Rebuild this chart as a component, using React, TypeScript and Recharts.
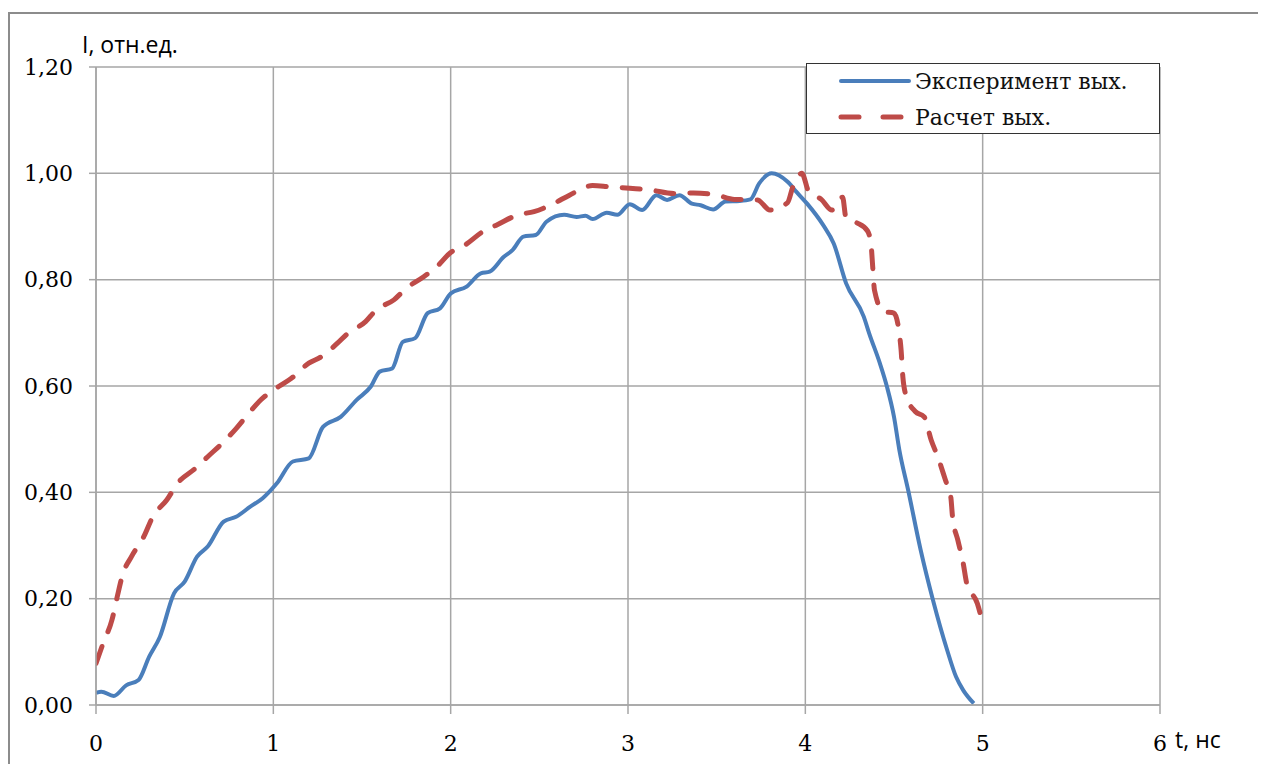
import { LineChart, Line, XAxis, YAxis, CartesianGrid, Legend } from 'recharts';

// Эксперимент вых.
const tExp = [
  0, 0.03, 0.1, 0.17, 0.24, 0.3, 0.36, 0.44, 0.5, 0.57,
  0.63, 0.72, 0.79, 0.87, 0.94, 1.02, 1.11, 1.2, 1.28, 1.38,
  1.47, 1.55, 1.6, 1.67, 1.73, 1.8, 1.87, 1.94, 2.0, 2.09,
  2.17, 2.22, 2.3, 2.35, 2.41, 2.48, 2.54, 2.64, 2.71, 2.76,
  2.8, 2.88, 2.94, 3.01, 3.08, 3.16, 3.22, 3.29, 3.36, 3.41,
  3.48, 3.55, 3.63, 3.69, 3.74, 3.81, 3.9, 3.95, 4.01, 4.1,
  4.16, 4.23, 4.33, 4.36, 4.42, 4.46, 4.5, 4.53, 4.58, 4.65,
  4.72, 4.8, 4.85, 4.89, 4.95,
];
const iExp = [
  0.023, 0.025, 0.017, 0.037, 0.047, 0.091, 0.128, 0.21, 0.232, 0.279,
  0.298, 0.345, 0.354, 0.373, 0.389, 0.417, 0.458, 0.464, 0.523, 0.542,
  0.574, 0.599, 0.627, 0.633, 0.683, 0.69, 0.737, 0.746, 0.774, 0.787,
  0.812, 0.815, 0.843, 0.856, 0.881, 0.884, 0.909, 0.922, 0.918, 0.92,
  0.914, 0.926, 0.922, 0.942, 0.931, 0.959, 0.95, 0.959, 0.943, 0.94,
  0.932, 0.947, 0.948, 0.951, 0.981, 1.0, 0.984, 0.965, 0.943, 0.903,
  0.868, 0.793, 0.73, 0.699, 0.643, 0.599, 0.542, 0.48, 0.404, 0.292,
  0.197, 0.103, 0.053, 0.028, 0.003,
];

// Расчет вых.
const tCalc = [
  0, 0.04, 0.09, 0.12, 0.15, 0.2, 0.27, 0.32, 0.4, 0.46,
  0.56, 0.63, 0.72, 0.79, 0.87, 0.93, 1.03, 1.1, 1.2, 1.27,
  1.36, 1.42, 1.52, 1.58, 1.68, 1.75, 1.85, 1.92, 2.0, 2.08,
  2.18, 2.26, 2.38, 2.47, 2.58, 2.67, 2.8, 2.89, 3.01, 3.12,
  3.26, 3.37, 3.5, 3.6, 3.73, 3.8, 3.9, 3.93, 3.98, 4.02,
  4.09, 4.15, 4.21, 4.23, 4.29, 4.35, 4.37, 4.38, 4.39, 4.44,
  4.5, 4.53, 4.54, 4.55, 4.57, 4.62, 4.67, 4.71, 4.75, 4.79,
  4.82, 4.83, 4.86, 4.89, 4.91, 4.97, 5.0,
];
const iCalc = [
  0.078, 0.116, 0.16, 0.204, 0.245, 0.279, 0.317, 0.354, 0.386, 0.417,
  0.445, 0.467, 0.495, 0.52, 0.552, 0.574, 0.599, 0.614, 0.643, 0.655,
  0.68, 0.699, 0.721, 0.743, 0.762, 0.784, 0.806, 0.824, 0.851, 0.865,
  0.89, 0.903, 0.922, 0.928, 0.943, 0.959, 0.977, 0.975, 0.972, 0.969,
  0.962, 0.963, 0.959, 0.951, 0.95, 0.931, 0.945, 0.975, 1.0, 0.965,
  0.951, 0.931, 0.955, 0.915, 0.907, 0.892, 0.868, 0.824, 0.78, 0.74,
  0.737, 0.699, 0.668, 0.617, 0.58, 0.552, 0.542, 0.498, 0.464, 0.423,
  0.392, 0.354, 0.31, 0.267, 0.229, 0.191, 0.154,
];

const xTicks = [0, 1, 2, 3, 4, 5, 6];
const yTicks = [0, 0.2, 0.4, 0.6, 0.8, 1.0, 1.2];

const expData = tExp.map((t, i) => ({ t, v: iExp[i] }));
const calcData = tCalc.map((t, i) => ({ t, v: iCalc[i] }));

const BLUE = '#4a7ebb';
const RED = '#be4b48';
const GRID = '#a6a6a6';
const SERIF = 'DejaVu Serif';
const tickFont = { fontFamily: SERIF, fontSize: 22, fill: '#000' };
const labelFont = { fontFamily: 'Open Sans', fontSize: 23, fill: '#000' };

const LegendBox = () => (
  <div style={{ width: 354, height: 71, border: '1.5px solid #333', background: '#fff', boxSizing: 'border-box' }}>
    <svg width={352} height={69} style={{ display: 'block' }}>
      <line x1={34} y1={17} x2={102} y2={17} stroke={BLUE} strokeWidth={4} strokeLinecap="round" />
      <text x={108} y={25} fontFamily={SERIF} fontSize={22} fill="#111">
        Эксперимент вых.
      </text>
      <line x1={34} y1={53} x2={102} y2={53} stroke={RED} strokeWidth={5} strokeLinecap="round" strokeDasharray="18 24" />
      <text x={108} y={61} fontFamily={SERIF} fontSize={22} fill="#111">
        Расчет вых.
      </text>
    </svg>
  </div>
);

const App = () => {
  return (
    <div style={{ position: 'relative', width: 1250, height: 756 }}>
      <div
        style={{
          position: 'absolute',
          left: 0,
          top: 4,
          right: 0,
          bottom: 0,
          borderTop: '2px solid #8c8c8c',
          borderLeft: '2px solid #8c8c8c',
        }}
      />
      <LineChart
        width={1250}
        height={756}
        margin={{ top: 59, right: 98, left: 28, bottom: 19 }}
        style={{ position: 'absolute', left: 0, top: 0 }}
      >
        <CartesianGrid stroke={GRID} strokeWidth={1.5} />
        <XAxis
          type="number"
          dataKey="t"
          domain={[0, 6]}
          ticks={xTicks}
          allowDataOverflow
          height={40}
          stroke={GRID}
          strokeWidth={1.5}
          tickSize={9}
          tickMargin={21}
          tick={tickFont}
          label={{
            content: (props: any) => {
              const vb = props.viewBox;
              return (
                <text x={vb.x + vb.width + 15} y={vb.y + 43} {...labelFont}>
                  t, нс
                </text>
              );
            },
          }}
        />
        <YAxis
          type="number"
          domain={[0, 1.2]}
          ticks={yTicks}
          width={60}
          stroke={GRID}
          strokeWidth={1.5}
          tickSize={7}
          tickMargin={16}
          tick={tickFont}
          tickFormatter={(v: number) => v.toFixed(2).replace('.', ',')}
          label={{
            content: (props: any) => {
              const vb = props.viewBox;
              return (
                <text x={vb.x + vb.width - 14} y={vb.y - 14} {...labelFont}>
                  I, отн.ед.
                </text>
              );
            },
          }}
        />
        <Legend
          layout="horizontal"
          verticalAlign="middle"
          align="center"
          content={() => <LegendBox />}
          wrapperStyle={{ position: 'absolute', left: 798, top: 55, width: 354, height: 71 }}
        />
        <Line
          data={expData}
          dataKey="v"
          name="Эксперимент вых."
          type="monotone"
          stroke={BLUE}
          strokeWidth={4}
          dot={false}
          isAnimationActive={false}
        />
        <Line
          data={calcData}
          dataKey="v"
          name="Расчет вых."
          type="monotone"
          stroke={RED}
          strokeWidth={5}
          strokeDasharray="18 16"
          strokeLinecap="round"
          dot={false}
          isAnimationActive={false}
        />
      </LineChart>
    </div>
  );
};

export default App;
